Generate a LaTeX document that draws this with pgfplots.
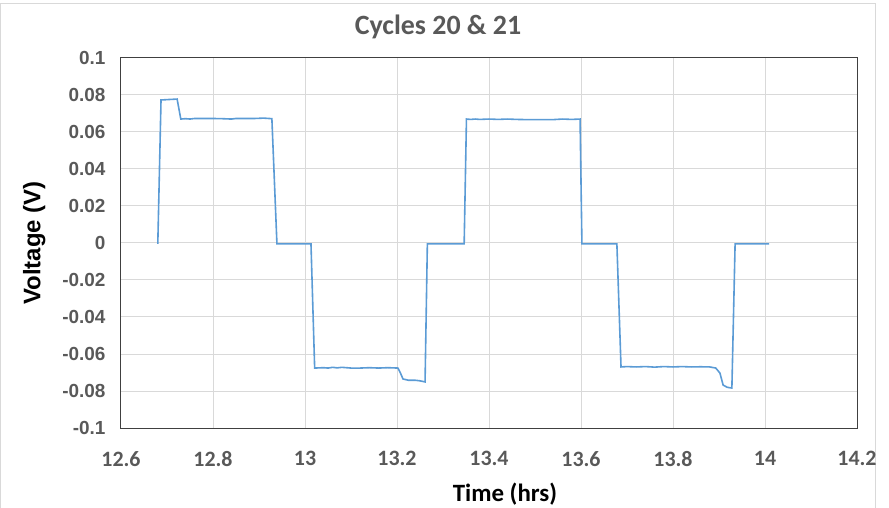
\documentclass[border=0pt]{standalone}
\usepackage{fontspec}
\setmainfont{Carlito}
\newfontfamily\arialfont{Liberation Sans}
\usepackage{pgfplots}
\pgfplotsset{compat=1.18}
\definecolor{lineblue}{RGB}{91,155,213}
\definecolor{gridgray}{RGB}{217,217,217}
\definecolor{textgray}{RGB}{89,89,89}
\definecolor{framegray}{RGB}{217,217,217}

\begin{document}
\begin{tikzpicture}[x=1bp,y=1bp]
\useasboundingbox (-121bp,-80bp) rectangle (768bp,428bp);
\draw[framegray,line width=1bp] (-120bp,-80bp) rectangle (754bp,424bp);
\begin{axis}[
  at={(0,0)}, anchor=south west,
  scale only axis, width=736bp, height=370bp,
  xmin=12.6, xmax=14.2, ymin=-0.1, ymax=0.1,
  xtick={12.6,12.8,13,13.2,13.4,13.6,13.8,14,14.2},
  xticklabels={12.6,12.8,13,13.2,13.4,13.6,13.8,14,14.2},
  ytick={-0.1,-0.08,-0.06,-0.04,-0.02,0,0.02,0.04,0.06,0.08,0.1},
  yticklabels={-0.1,-0.08,-0.06,-0.04,-0.02,0,0.02,0.04,0.06,0.08,0.1},
  major tick length=0pt,
  grid=major,
  major grid style={gridgray,line width=1bp},
  axis line style={black!75,line width=1bp},
  x tick label style={font=\bfseries\fontsize{22}{22}\selectfont,text=textgray,yshift=-20bp},
  y tick label style={font=\arialfont\bfseries\fontsize{19}{19}\selectfont,text=textgray,xshift=-12bp},
  xlabel={Time (hrs)},
  xlabel style={font=\bfseries\fontsize{25}{25}\selectfont,text=black,yshift=-9bp,xshift=16bp},
  ylabel={Voltage (V)},
  ylabel style={font=\arialfont\bfseries\fontsize{24}{24}\selectfont,text=black,yshift=10bp},
  title={Cycles 20 \& 21},
  title style={font=\bfseries\fontsize{28}{28}\selectfont,text=textgray,yshift=10bp,xshift=-51bp},
  clip=false,
]
\addplot[lineblue,line width=1.6bp] coordinates {
(12.680,-0.0005) (12.687,0.0773) (12.700,0.0775) (12.722,0.0778) (12.730,0.0670)
(12.740,0.0672) (12.750,0.0670) (12.760,0.0673) (12.780,0.0673) (12.800,0.0673)
(12.820,0.0672) (12.840,0.0670) (12.850,0.0673) (12.870,0.0673) (12.890,0.0673)
(12.910,0.0675) (12.928,0.0672) (12.939,-0.0005) (12.960,-0.0005) (12.990,-0.0005)
(13.013,-0.0005) (13.021,-0.0676) (13.040,-0.0674) (13.050,-0.0676) (13.060,-0.0672)
(13.070,-0.0675) (13.080,-0.0672) (13.100,-0.0676) (13.120,-0.0676) (13.140,-0.0674)
(13.160,-0.0676) (13.180,-0.0674) (13.202,-0.0676) (13.207,-0.0700) (13.213,-0.0735)
(13.225,-0.0742) (13.240,-0.0742) (13.250,-0.0745) (13.261,-0.0751) (13.266,-0.0005)
(13.290,-0.0005) (13.320,-0.0005) (13.346,-0.0005) (13.351,0.0670) (13.360,0.0668)
(13.370,0.0670) (13.380,0.0668) (13.400,0.0670) (13.420,0.0668) (13.440,0.0670)
(13.460,0.0668) (13.480,0.0667) (13.500,0.0667) (13.520,0.0667) (13.540,0.0667)
(13.560,0.0670) (13.580,0.0668) (13.598,0.0670) (13.602,-0.0005) (13.630,-0.0005)
(13.660,-0.0005) (13.678,-0.0005) (13.687,-0.0670) (13.700,-0.0668) (13.720,-0.0670)
(13.740,-0.0668) (13.760,-0.0671) (13.780,-0.0668) (13.800,-0.0670) (13.820,-0.0668)
(13.840,-0.0670) (13.860,-0.0669) (13.880,-0.0670) (13.893,-0.0676) (13.902,-0.0703)
(13.909,-0.0768) (13.918,-0.0780) (13.928,-0.0784) (13.935,-0.0005) (13.960,-0.0005)
(13.990,-0.0005) (14.009,-0.0005)
};
\end{axis}
\end{tikzpicture}
\end{document}
